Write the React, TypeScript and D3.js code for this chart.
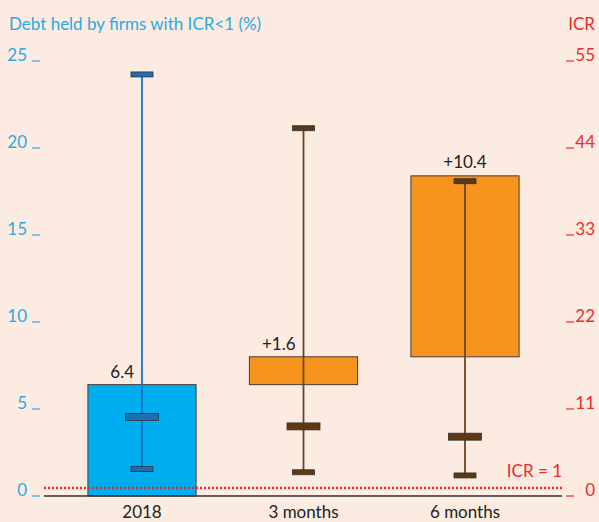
import React from "react";
import * as d3 from "d3";

const categories = ["2018", "3 months", "6 months"];
const barBase = [0, 6.4, 8.0];
const barTop = [6.4, 8.0, 18.4];
const barLabels = ["6.4", "+1.6", "+10.4"];
const icrHigh = [53.3, 46.5, 39.8];
const icrMedian = [10.0, 8.8, 7.5];
const icrLow = [3.4, 3.0, 2.6];
const leftTicks = [0, 5, 10, 15, 20, 25];
const rightTicks = [0, 11, 22, 33, 44, 55];
const icrThreshold = 1;

const W = 599;
const H = 522;
const BG = "#fcebe1";
const BLUE_TXT = "#2aaae2";
const RED = "#ee2a2f";
const FONT = "Lato, 'Open Sans', sans-serif";
const FS = 17;

export default function App() {
  const yL = d3.scaleLinear().domain([0, 25]).range([496, 61]);
  const yR = d3.scaleLinear().domain([0, 55]).range([496, 61]);
  const x = d3
    .scaleBand<string>()
    .domain(categories)
    .range([61.25, 545.75])
    .paddingInner(0.33)
    .paddingOuter(0.165);
  const bw = x.bandwidth();
  const barFill = ["#00aeef", "#f7941d", "#f7941d"];
  const whisk = ["#1a74c0", "#6b4423", "#6b4423"];
  const capFill = ["#1f6db4", "#5e3715", "#5e3715"];

  return (
    <svg
      width={W}
      height={H}
      style={{ position: "absolute", left: 0, top: 0, background: BG }}
      fontFamily={FONT}
    >
      <rect x={0} y={0} width={W} height={H} fill={BG} />
      <text x={9} y={30} fill={BLUE_TXT} fontSize={FS}>
        Debt held by firms with ICR&lt;1 (%)
      </text>
      <text x={595} y={30} fill={RED} fontSize={FS} textAnchor="end">
        ICR
      </text>
      {leftTicks.map((t) => (
        <g key={"l" + t}>
          <text x={27} y={yL(t)} fill={BLUE_TXT} fontSize={FS} textAnchor="end">
            {t}
          </text>
          <line x1={32} x2={40} y1={yL(t)} y2={yL(t)} stroke={BLUE_TXT} strokeWidth={1.2} />
        </g>
      ))}
      {rightTicks.map((t) => (
        <g key={"r" + t}>
          <text x={595} y={yR(t)} fill={RED} fontSize={FS} textAnchor="end">
            {t}
          </text>
          <line x1={566} x2={574} y1={yR(t)} y2={yR(t)} stroke={RED} strokeWidth={1.2} />
        </g>
      ))}
      {categories.map((c, i) => {
        const x0 = x(c)!;
        const top = yL(barTop[i]);
        const bot = yL(barBase[i]);
        return (
          <rect
            key={c}
            x={x0}
            y={top}
            width={bw}
            height={bot - top}
            fill={barFill[i]}
            stroke="#4a3a30"
            strokeWidth={1}
          />
        );
      })}
      <line
        x1={44}
        x2={562}
        y1={yR(icrThreshold)}
        y2={yR(icrThreshold)}
        stroke={RED}
        strokeWidth={2.5}
        strokeDasharray="2,2"
      />
      <line x1={44} x2={562} y1={yL(0)} y2={yL(0)} stroke="#333" strokeWidth={1.5} />
      {categories.map((c, i) => {
        const cx = x(c)! + bw / 2;
        const capW = 22;
        const medW = 33;
        return (
          <g key={"w" + c}>
            <line
              x1={cx}
              x2={cx}
              y1={yR(icrHigh[i])}
              y2={yR(icrLow[i])}
              stroke={whisk[i]}
              strokeWidth={1.8}
            />
            <rect
              x={cx - capW / 2}
              y={yR(icrHigh[i]) - 2.5}
              width={capW}
              height={5}
              fill={capFill[i]}
              stroke="#333"
              strokeWidth={0.8}
            />
            <rect
              x={cx - medW / 2}
              y={yR(icrMedian[i]) - 3.5}
              width={medW}
              height={7}
              fill={capFill[i]}
              stroke="#333"
              strokeWidth={0.8}
            />
            <rect
              x={cx - capW / 2}
              y={yR(icrLow[i]) - 2.5}
              width={capW}
              height={5}
              fill={capFill[i]}
              stroke="#333"
              strokeWidth={0.8}
            />
            <text x={cx} y={518} fontSize={FS} fill="#222" textAnchor="middle">
              {c}
            </text>
          </g>
        );
      })}
      {categories.map((c, i) => {
        const cx = x(c)! + bw / 2;
        const top = yL(barTop[i]);
        const clash = yR(icrHigh[i]) < top;
        return (
          <text
            key={"lab" + c}
            x={clash ? cx - 8 : cx}
            y={top - (clash ? 7 : 8)}
            fontSize={FS}
            fill="#222"
            textAnchor={clash ? "end" : "middle"}
          >
            {barLabels[i]}
          </text>
        );
      })}
      <text x={562} y={477} fill={RED} fontSize={FS} textAnchor="end">
        ICR = 1
      </text>
    </svg>
  );
}
